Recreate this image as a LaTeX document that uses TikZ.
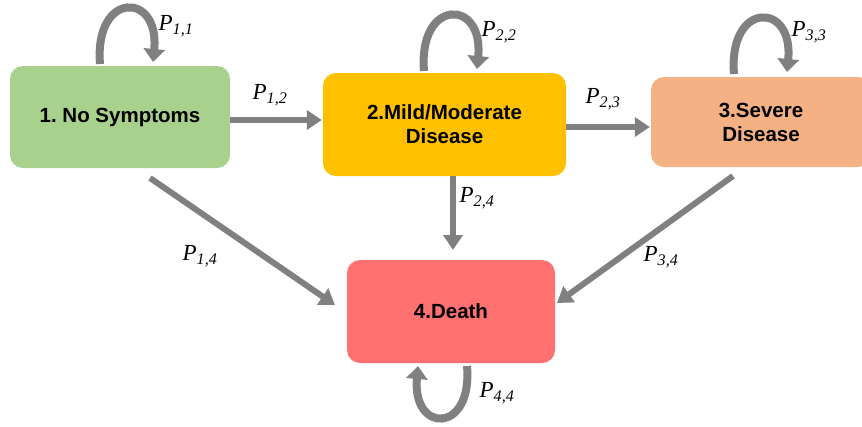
\documentclass[tikz,border=0pt]{standalone}
\usepackage{fontspec}
\setmainfont{Liberation Sans}
\newfontfamily\pfont{Liberation Serif}
\usetikzlibrary{arrows.meta}
\definecolor{cgreen}{HTML}{A9D18E}
\definecolor{cyellow}{HTML}{FFC000}
\definecolor{corange}{HTML}{F4B183}
\definecolor{cred}{HTML}{FF7171}
\definecolor{cgray}{HTML}{808080}
\frenchspacing
\begin{document}
\begin{tikzpicture}[x=1pt,y=-1pt,
  box/.style={rounded corners=13pt, inner sep=0pt, align=center, font=\bfseries\fontsize{20.5}{24}\selectfont},
  arr/.style={draw=cgray, line width=6pt, -{Triangle[width=19pt,length=15pt]}},
  lp/.style={draw=cgray, line width=8pt, -{Triangle[width=21pt,length=13pt]}},
  lab/.style={font=\pfont\itshape\fontsize{23}{25}\selectfont, inner sep=0pt}]
\useasboundingbox (0,0) rectangle (862,426);
\node[box, fill=cgreen, minimum width=220pt, minimum height=102pt] (n1) at (120,117) {1. No Symptoms};
\node[box, fill=cyellow, minimum width=243pt, minimum height=103pt] (n2) at (444.5,124.5) {2.Mild/Moderate\\Disease};
\node[box, fill=corange, minimum width=220pt, minimum height=90pt] (n3) at (761,122) {3.Severe\\Disease};
\node[box, fill=cred, minimum width=208pt, minimum height=103pt] (n4) at (451,311.5) {4.Death};
% connectors
\coordinate (a1) at (150,178);
\coordinate (a3) at (733,176);
\draw[arr] (n1.east |- 0,120) -- ([xshift=-1pt]n2.west |- 0,120);
\draw[arr] (n2.east |- 0,127) -- ([xshift=-1pt]n3.west |- 0,127);
\draw[arr] (453,176) -- (453,250);
\draw[arr] (a1) -- (335,305);
\draw[arr] (a3) -- (557,303);
% loops
\draw[lp] (100,64) .. controls (94,-9) and (160,-9) .. (153,62);
\draw[lp] (424,71) .. controls (418,-2) and (484,-2) .. (477,69);
\draw[lp] (734,74) .. controls (728,1) and (794,1) .. (787,72);
\draw[lp] (467,366) .. controls (473,434) and (412,434) .. (418,366);
% labels
\node[lab] (l11) at (176,26) {P\textsubscript{1,1}};
\node[lab] (l12) at (270,95) {P\textsubscript{1,2}};
\node[lab] (l22) at (499,32) {P\textsubscript{2,2}};
\node[lab] (l23) at (603,99) {P\textsubscript{2,3}};
\node[lab] (l33) at (809,32) {P\textsubscript{3,3}};
\node[lab] (l24) at (477,198) {P\textsubscript{2,4}};
\node[lab] (l14) at (200,256) {P\textsubscript{1,4}};
\node[lab] (l34) at (661,257) {P\textsubscript{3,4}};
\node[lab] (l44) at (497,393) {P\textsubscript{4,4}};
\end{tikzpicture}
\end{document}
